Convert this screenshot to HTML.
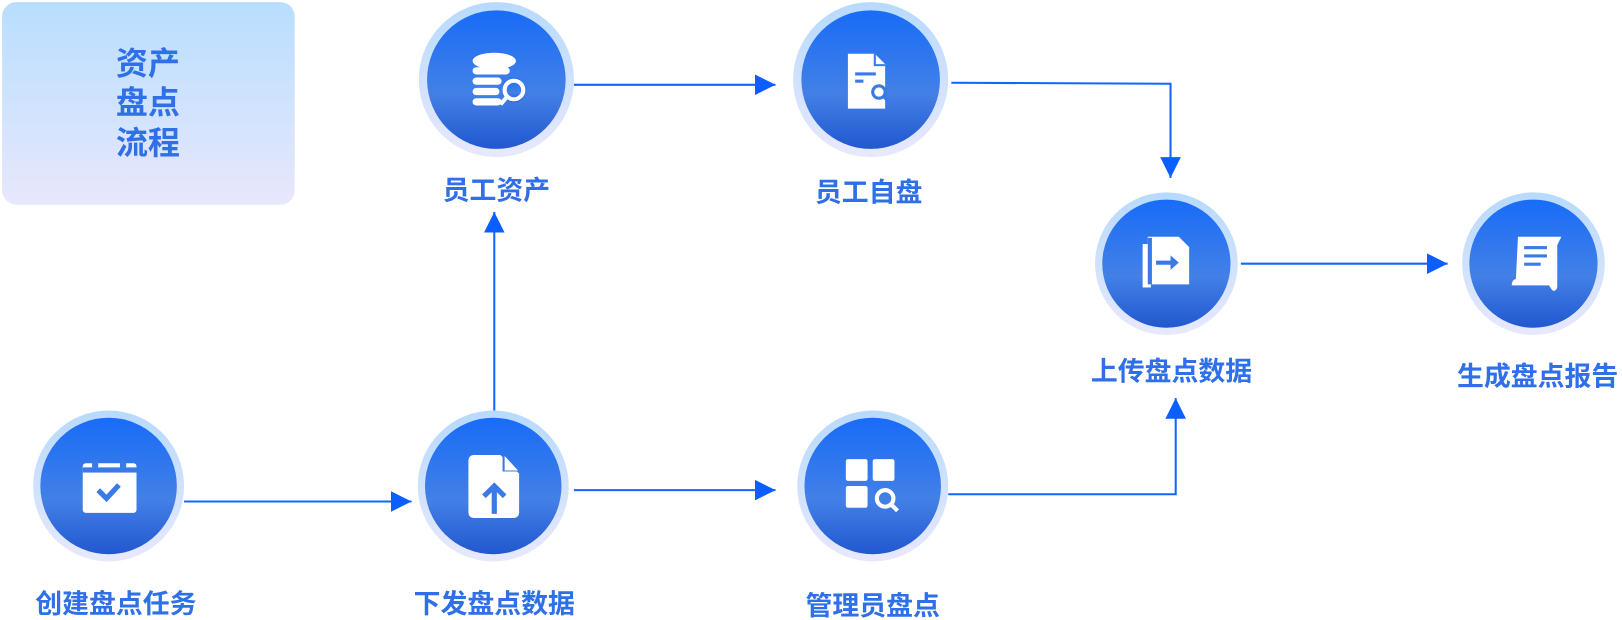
<!DOCTYPE html>
<html><head><meta charset="utf-8"><style>
html,body{margin:0;padding:0;background:#fff;width:1622px;height:620px;overflow:hidden}
svg{display:block}
text{font-family:"Liberation Sans","Noto Sans CJK SC",sans-serif;font-weight:bold;fill:#2f6fe8}
</style></head><body>
<svg width="1622" height="620" viewBox="0 0 1568.6 599.6" xmlns="http://www.w3.org/2000/svg">
<defs>
<linearGradient id="box" x1="0" y1="0" x2="0" y2="1"><stop offset="0" stop-color="#b8defe"/><stop offset="1" stop-color="#e8e7fc"/></linearGradient>
<linearGradient id="ring" x1="0" y1="0" x2="0" y2="1"><stop offset="0" stop-color="#b7dafd"/><stop offset="1" stop-color="#e8e8fd"/></linearGradient>
<linearGradient id="core" x1="0" y1="0" x2="0" y2="1"><stop offset="0" stop-color="#186cf7"/><stop offset="0.6" stop-color="#4380e6"/><stop offset="1" stop-color="#2158cf"/></linearGradient>
<marker id="ah" viewBox="0 0 10 10" refX="10" refY="5" markerWidth="20" markerHeight="20" markerUnits="userSpaceOnUse" orient="auto"><path d="M0,0L10,5L0,10z" fill="#0b5fff"/></marker>
</defs>
<rect x="2" y="2" width="283" height="196" rx="14" fill="url(#box)"/>
<text x="143" y="72" font-size="31" text-anchor="middle">资产</text>
<text x="143" y="110" font-size="31" text-anchor="middle">盘点</text>
<text x="143" y="149" font-size="31" text-anchor="middle">流程</text>

<g stroke="#1266ff" stroke-width="2" fill="none">
<path d="M555,82H750" marker-end="url(#ah)"/>
<path d="M920,80L1132,81V172" marker-end="url(#ah)"/>
<path d="M1200,255H1400" marker-end="url(#ah)"/>
<path d="M178,485H398" marker-end="url(#ah)"/>
<path d="M478,397V205" marker-end="url(#ah)"/>
<path d="M555,474H750" marker-end="url(#ah)"/>
<path d="M917,478H1137V385" marker-end="url(#ah)"/>
</g>

<g>
<circle cx="480" cy="77" r="75" fill="url(#ring)"/><circle cx="480" cy="77" r="67" fill="url(#core)"/>
<circle cx="842" cy="77" r="75" fill="url(#ring)"/><circle cx="842" cy="77" r="67" fill="url(#core)"/>
<circle cx="1128" cy="255" r="69" fill="url(#ring)"/><circle cx="1128" cy="255" r="62" fill="url(#core)"/>
<circle cx="1483" cy="255" r="69" fill="url(#ring)"/><circle cx="1483" cy="255" r="62" fill="url(#core)"/>
<circle cx="105" cy="470" r="73" fill="url(#ring)"/><circle cx="105" cy="470" r="66" fill="url(#core)"/>
<circle cx="477" cy="470" r="73" fill="url(#ring)"/><circle cx="477" cy="470" r="66" fill="url(#core)"/>
<circle cx="844" cy="470" r="73" fill="url(#ring)"/><circle cx="844" cy="470" r="66" fill="url(#core)"/>
</g>

<g fill="#fff">
<ellipse cx="478" cy="59" rx="21" ry="8"/>
<rect x="457" y="65" width="36" height="7" rx="3.5"/><rect x="457" y="75" width="28" height="7" rx="3.5"/><rect x="457" y="85" width="26" height="7" rx="3.5"/><rect x="457" y="95" width="28" height="7" rx="3.5"/>
<circle cx="497" cy="87" r="12" fill="url(#core)"/>
<circle cx="497" cy="87" r="9" fill="none" stroke="#fff" stroke-width="4"/>
<path d="M490,94L484,101" stroke="#fff" stroke-width="4"/>
<path d="M820,52h26l10,10v43h-36z"/>
<path d="M846,52v11h10" fill="none" stroke="#3a7ae6" stroke-width="2"/>
<rect x="827" y="70" width="20" height="3" fill="#3a7ae6"/><rect x="827" y="77" width="8" height="3" fill="#3a7ae6"/>
<circle cx="850" cy="89" r="6" fill="none" stroke="#3a7ae6" stroke-width="3"/><path d="M854,93l6,6" stroke="#3a7ae6" stroke-width="3"/>
<rect x="1105" y="236" width="8" height="42"/>
<path d="M1110,229h30l10,10v36h-40z"/><rect x="1110" y="230" width="4" height="45" fill="#3a7ae6"/>
<path d="M1118,252h14v-5l8,7l-8,7v-5h-14z" fill="#3a7ae6"/>
<path d="M1468,229h42l-4,8v40c0,4-4,6-6,2l-2-3h-36c0-4,2-6,4-6z"/>
<rect x="1474" y="238" width="22" height="3" fill="#3a7ae6"/><rect x="1474" y="246" width="22" height="3" fill="#3a7ae6"/><rect x="1474" y="254" width="16" height="3" fill="#3a7ae6"/>
<rect x="80" y="448" width="52" height="48" rx="3"/>
<rect x="80" y="452" width="52" height="5" fill="#3a7ae6"/>
<rect x="89" y="444" width="6" height="10" rx="3" fill="#3a7ae6"/><rect x="116" y="444" width="6" height="10" rx="3" fill="#3a7ae6"/>
<path d="M95,474l8,8l12-13" fill="none" stroke="#3a7ae6" stroke-width="5"/>
<path d="M458,440h26l18,18v38a5,5 0 0 1-5,5h-39a5,5 0 0 1-5-5v-51a5,5 0 0 1 5-5z"/>
<path d="M486,440v16h16z" fill="#3a7ae6"/><path d="M488,441l13,14h-13z"/>
<path d="M468,480l10-10l10,10M478,471v26" fill="none" stroke="#3a7ae6" stroke-width="5"/>
<rect x="818" y="444" width="21" height="21" rx="2"/><rect x="844" y="444" width="21" height="21" rx="2"/><rect x="818" y="470" width="21" height="21" rx="2"/>
<circle cx="856" cy="482" r="8" fill="none" stroke="#fff" stroke-width="4"/><path d="M862,488l6,6" stroke="#fff" stroke-width="4"/>
</g>

<text x="480" y="193" font-size="26" text-anchor="middle">员工资产</text>
<text x="840" y="195" font-size="26" text-anchor="middle">员工自盘</text>
<text x="1133" y="368" font-size="26" text-anchor="middle">上传盘点数据</text>
<text x="1487" y="373" font-size="26" text-anchor="middle">生成盘点报告</text>
<text x="112" y="593" font-size="26" text-anchor="middle">创建盘点任务</text>
<text x="478" y="593" font-size="26" text-anchor="middle">下发盘点数据</text>
<text x="844" y="595" font-size="26" text-anchor="middle">管理员盘点</text>
</svg>
</body></html>
